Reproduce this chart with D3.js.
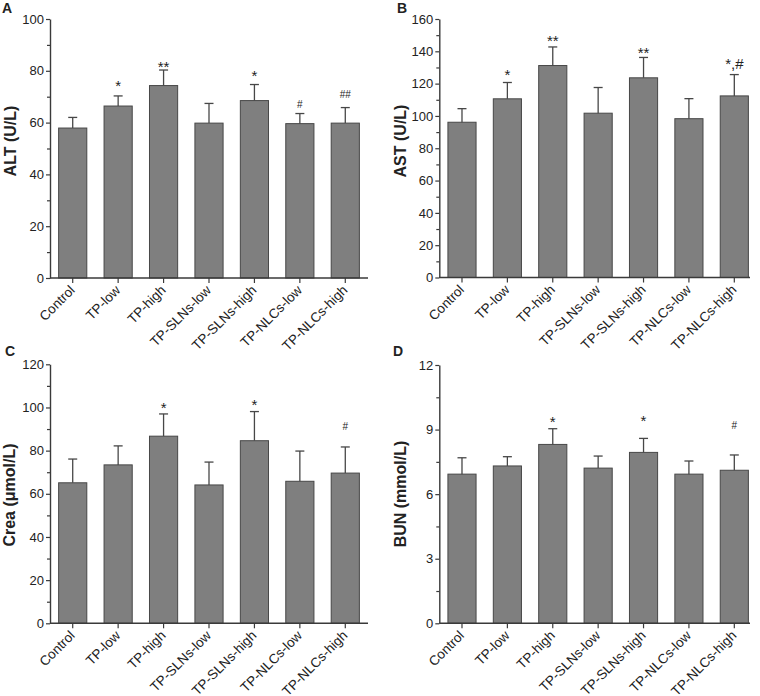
<!DOCTYPE html>
<html>
<head>
<meta charset="utf-8">
<script src="https://cdn.jsdelivr.net/npm/d3@7"></script>
<style>
  body { margin: 0; background: #fff; }
  svg text { font-family: Arial, "Liberation Sans", sans-serif; fill: #222; }
</style>
</head>
<body>
<svg id="chart" width="760" height="696"></svg>
<script>
// groups on the x axis (same for all four panels)
const groups = ["Control", "TP-low", "TP-high", "TP-SLNs-low", "TP-SLNs-high", "TP-NLCs-low", "TP-NLCs-high"];

// A: ALT
const altMean = [57.9, 66.4, 74.3, 59.8, 68.5, 59.6, 59.8];
const altSd = [4.1, 3.9, 6.0, 7.6, 6.2, 3.9, 6.0];
const altMarks = ["", "*", "**", "", "*", "#", "##"];
const altMarkY = [null, 75.2, 82.9, null, 79.3, 67.2, 70.9];

// B: AST
const astMean = [96.1, 110.6, 131.2, 101.7, 123.6, 98.3, 112.4];
const astSd = [8.4, 10.1, 11.5, 15.9, 12.6, 12.4, 13.2];
const astMarks = ["", "*", "**", "", "**", "", "*,#"];
const astMarkY = [null, 127.5, 148.3, null, 141.0, null, 133.9];

// C: Crea
const creaMean = [65.1, 73.4, 86.7, 64.1, 84.6, 65.8, 69.6];
const creaSd = [11.0, 8.8, 10.3, 10.6, 13.5, 14.0, 12.1];
const creaMarks = ["", "", "*", "", "*", "", "#"];
const creaMarkY = [null, null, 101.2, null, 102.7, null, 91.4];

// D: BUN
const bunMean = [6.93, 7.31, 8.31, 7.21, 7.94, 6.93, 7.11];
const bunSd = [0.76, 0.43, 0.73, 0.56, 0.65, 0.61, 0.71];
const bunMarks = ["", "", "*", "", "*", "", "#"];
const bunMarkY = [null, null, 9.52, null, 9.57, null, 9.21];

const panels = [
  { letter: "A", label: "ALT (U/L)", mean: altMean, sd: altSd, marks: altMarks, markY: altMarkY,
    max: 100, major: 20, x0: 50, x1: 368, top: 19, bottom: 278,
    lx: 16, ly: 141, tx: 2, ty: 13 },
  { letter: "B", label: "AST (U/L)", mean: astMean, sd: astSd, marks: astMarks, markY: astMarkY,
    max: 160, major: 20, x0: 439.3, x1: 757, top: 19, bottom: 277.5,
    lx: 406, ly: 141, tx: 397, ty: 13 },
  { letter: "C", label: "Crea (\u03bcmol/L)", mean: creaMean, sd: creaSd, marks: creaMarks, markY: creaMarkY,
    max: 120, major: 20, x0: 50, x1: 368, top: 364.3, bottom: 623.3,
    lx: 15, ly: 495, tx: 5, ty: 356 },
  { letter: "D", label: "BUN (mmol/L)", mean: bunMean, sd: bunSd, marks: bunMarks, markY: bunMarkY,
    max: 12, major: 3, x0: 439.3, x1: 757, top: 365, bottom: 623.3,
    lx: 406, ly: 494, tx: 393, ty: 356 }
];

const svg = d3.select("#chart");
const axisColor = "#3a3a3a";

panels.forEach(p => {
  const g = svg.append("g");

  const x = d3.scaleBand()
    .domain(groups)
    .range([p.x0, p.x1])
    .paddingInner(0.38)
    .paddingOuter(0.19);

  const y = d3.scaleLinear()
    .domain([0, p.max])
    .range([p.bottom, p.top]);

  const majorTicks = d3.range(0, p.max + 0.001, p.major);
  const minorTicks = d3.range(p.major / 2, p.max, p.major);

  // bars
  g.selectAll("rect.bar")
    .data(p.mean)
    .join("rect")
    .attr("class", "bar")
    .attr("x", (d, i) => x(groups[i]))
    .attr("y", d => y(d))
    .attr("width", x.bandwidth())
    .attr("height", d => y(0) - y(d))
    .attr("fill", "#7f7f7f")
    .attr("stroke", "#474747")
    .attr("stroke-width", 1);

  // error bars (upper only)
  const err = g.selectAll("g.err")
    .data(p.mean)
    .join("g")
    .attr("class", "err")
    .attr("transform", (d, i) => `translate(${x(groups[i]) + x.bandwidth() / 2},0)`);
  err.append("line")
    .attr("y1", d => y(d))
    .attr("y2", (d, i) => y(d + p.sd[i]))
    .attr("stroke", "#474747").attr("stroke-width", 1.3);
  err.append("line")
    .attr("x1", -4.5).attr("x2", 4.5)
    .attr("y1", (d, i) => y(d + p.sd[i]))
    .attr("y2", (d, i) => y(d + p.sd[i]))
    .attr("stroke", "#474747").attr("stroke-width", 1.3);

  // significance marks
  const markData = p.marks.map((m, i) => ({ m, i })).filter(d => d.m !== "");
  g.selectAll("text.mark")
    .data(markData)
    .join("text")
    .attr("class", "mark")
    .attr("x", d => x(groups[d.i]) + x.bandwidth() / 2)
    .attr("y", d => y(p.markY[d.i]))
    .attr("text-anchor", "middle")
    .attr("dy", d => d.m[0] === "*" ? "0.55em" : "0.36em")
    .style("font-size", d => d.m[0] === "*" ? "15px" : "10px")
    .text(d => d.m);

  // y axis
  const yAxis = g.append("g")
    .attr("transform", `translate(${p.x0},0)`)
    .call(d3.axisLeft(y).tickValues(majorTicks).tickSize(4).tickPadding(2).tickSizeOuter(0));
  yAxis.select(".domain").attr("stroke", axisColor).attr("stroke-width", 1.4);
  yAxis.selectAll(".tick line").attr("stroke", axisColor).attr("stroke-width", 1.2);
  yAxis.selectAll(".tick text").style("font-size", "13px").attr("fill", "#222");

  const yMinor = g.append("g")
    .attr("transform", `translate(${p.x0},0)`)
    .call(d3.axisLeft(y).tickValues(minorTicks).tickSize(3).tickFormat(""));
  yMinor.select(".domain").remove();
  yMinor.selectAll(".tick line").attr("stroke", axisColor).attr("stroke-width", 1.2);

  // x axis
  const xAxis = g.append("g")
    .attr("transform", `translate(0,${p.bottom})`)
    .call(d3.axisBottom(x).tickSize(5).tickSizeOuter(0));
  xAxis.select(".domain").attr("stroke", axisColor).attr("stroke-width", 1.4)
    .attr("d", `M${p.x0},0H${Math.min(p.x1, 750)}`);
  xAxis.selectAll(".tick line").attr("stroke", axisColor).attr("stroke-width", 1.2);
  xAxis.selectAll(".tick text")
    .attr("y", 0).attr("dy", 0)
    .attr("text-anchor", "end")
    .attr("transform", "translate(3,13) rotate(-45)")
    .style("font-size", "13.5px")
    .attr("fill", "#222");

  // axis title
  g.append("text")
    .attr("transform", `translate(${p.lx},${p.ly}) rotate(-90)`)
    .attr("text-anchor", "middle")
    .style("font-size", "16px")
    .style("font-weight", "bold")
    .text(p.label);

  // panel letter
  g.append("text")
    .attr("x", p.tx).attr("y", p.ty)
    .style("font-size", "14px")
    .style("font-weight", "bold")
    .text(p.letter);
});
</script>
</body>
</html>
